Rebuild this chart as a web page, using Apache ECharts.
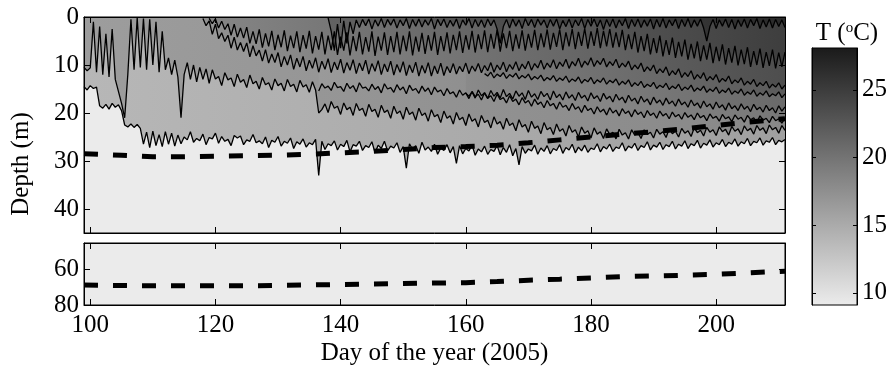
<!DOCTYPE html>
<html>
<head>
<meta charset="utf-8">
<script src="https://cdn.jsdelivr.net/npm/echarts@6/dist/echarts.min.js"></script>
<style>
  html, body { margin: 0; padding: 0; background: #fff; }
  #main { width: 891px; height: 372px; }
</style>
</head>
<body>
<div id="main"></div>
<script>
// axis ticks
const dayTicks = [100, 120, 140, 160, 180, 200];
const depthTicksTop = [0, 10, 20, 30, 40];
const depthTicksBottom = [60, 80];
const tempTicks = [10, 15, 20, 25];

// isotherm depths (m), one value every half day from the start day
const step = 0.5;

const gStart = 99;
const gDepth = [
  14.5, 15.2, 14.3, 14.9, 14.6, 18.5, 19.0, 18.2, 19.2, 18.0,
  18.8, 18.3, 19.5, 22.5, 22.9, 22.3, 23.0, 22.4, 23.2, 26.5,
  24.0, 27.2, 23.8, 26.8, 24.5, 27.0, 23.9, 26.5, 24.2, 26.9,
  24.6, 26.4, 25.0, 25.6, 23.9, 26.1, 25.3, 25.8, 24.4, 26.6,
  25.1, 25.4, 24.2, 26.3, 24.9, 25.9, 25.5, 26.8, 24.7, 25.2,
  24.8, 26.6, 25.6, 25.9, 24.5, 26.2, 25.8, 26.4, 25.0, 27.2,
  25.7, 26.1, 24.9, 26.9, 25.9, 26.3, 25.2, 27.4, 26.0, 26.5,
  25.4, 27.1, 26.2, 26.6, 25.5, 33.0, 25.9, 27.6, 26.4, 26.8,
  25.8, 27.7, 26.5, 27.0, 25.7, 28.1, 26.6, 26.9, 25.9, 27.8,
  26.8, 27.2, 26.0, 28.3, 26.7, 27.4, 25.9, 27.9, 26.9, 27.3,
  26.2, 28.2, 27.0, 31.5, 26.4, 27.6, 26.8, 28.4, 26.1, 27.7,
  27.1, 28.0, 26.5, 28.6, 27.3, 27.8, 26.6, 28.3, 27.0, 30.5,
  26.8, 28.5, 27.4, 27.9, 26.7, 28.8, 27.5, 28.1, 26.9, 28.6,
  27.6, 28.0, 26.8, 28.7, 27.2, 28.2, 26.6, 28.9, 27.4, 30.8,
  27.0, 28.4, 27.5, 27.9, 26.7, 28.6, 27.3, 28.0, 26.8, 28.5,
  27.4, 27.8, 26.6, 28.4, 27.2, 27.7, 26.5, 28.3, 27.1, 27.9,
  26.7, 28.2, 27.3, 27.6, 26.4, 28.1, 27.0, 27.5, 26.5, 28.0,
  27.1, 27.4, 26.2, 27.9, 26.9, 27.3, 26.3, 27.8, 26.8, 27.2,
  26.0, 27.7, 26.7, 27.1, 26.1, 27.6, 26.6, 27.0, 25.9, 27.5,
  26.5, 26.9, 25.8, 27.4, 26.4, 26.8, 25.7, 27.3, 26.3, 26.7,
  25.6, 27.1, 26.2, 26.6, 25.5, 27.0, 26.1, 26.5, 25.4, 26.9,
  26.0, 26.4, 25.3, 26.8, 25.9, 26.2, 25.2, 26.7, 25.8, 26.1,
  25.1, 26.6, 25.7, 26.0, 25.5
];

const fStart = 99;
const fDepth = [
  10.5, 11.2, 10.6, 1.0, 11.5, 2.0, 12.0, 3.5, 12.5, 2.5,
  13.0, 15.5, 18.0, 21.0, 12.0, 0.5, 11.0, 0.2, 10.5, 0.3,
  11.0, 0.5, 10.0, 1.0, 11.5, 3.0, 11.0, 8.5, 12.0, 9.0,
  12.5, 21.0, 12.0, 9.5, 13.0, 10.0, 13.5, 10.5, 13.0, 10.8,
  13.8, 11.0, 12.9, 12.4, 14.3, 11.6, 13.1, 12.7, 14.5, 11.9,
  13.6, 13.0, 14.7, 12.1, 13.9, 13.4, 15.0, 12.6, 14.1, 13.7,
  15.2, 12.9, 14.3, 13.8, 15.4, 13.0, 14.5, 14.0, 15.6, 13.2,
  14.6, 14.1, 15.7, 13.5, 15.2, 20.0, 19.3, 18.1, 19.9, 17.6,
  19.0, 18.6, 20.3, 17.9, 19.3, 18.8, 20.5, 18.0, 19.5, 19.0,
  20.7, 18.2, 19.7, 19.2, 20.9, 18.4, 19.9, 19.4, 21.1, 18.6,
  20.1, 19.6, 21.3, 18.8, 20.3, 19.8, 21.5, 19.0, 20.5, 20.0,
  21.7, 19.3, 20.8, 20.3, 22.0, 19.6, 21.1, 20.6, 22.3, 19.9,
  21.4, 20.9, 22.6, 20.2, 21.7, 21.2, 22.9, 20.5, 22.0, 21.5,
  23.1, 20.8, 22.3, 21.8, 23.4, 21.1, 22.6, 22.1, 23.7, 21.4,
  22.9, 22.4, 24.0, 21.7, 23.2, 22.7, 24.3, 22.0, 23.5, 23.0,
  24.5, 22.3, 23.8, 23.3, 24.8, 22.6, 24.0, 23.5, 25.0, 22.9,
  24.2, 23.7, 25.2, 23.1, 24.4, 23.9, 25.3, 23.3, 24.5, 24.0,
  25.4, 23.4, 24.6, 24.1, 25.4, 23.5, 24.6, 24.1, 25.3, 23.5,
  24.5, 24.0, 25.2, 23.4, 24.4, 23.9, 25.1, 23.3, 24.3, 23.8,
  25.0, 23.2, 24.2, 23.7, 24.9, 23.1, 24.1, 23.6, 24.8, 23.0,
  24.0, 23.5, 24.7, 22.9, 23.9, 23.4, 24.6, 22.8, 23.8, 23.3,
  24.5, 22.7, 23.7, 23.2, 24.4, 22.6, 23.6, 23.1, 24.3, 22.5,
  23.5, 23.0, 24.2, 22.6, 23.6
];

const eStart = 136.5;
const eDepth = [
  15.4, 13.9, 14.8, 14.4, 15.3, 13.6, 14.7, 14.5, 15.5,
  13.8, 14.9, 14.3, 15.6, 13.7, 14.8, 14.6, 15.4, 14.0, 15.1,
  14.5, 15.8, 13.9, 15.0, 14.7, 15.7, 14.1, 15.2, 14.6, 16.0,
  14.2, 15.3, 14.9, 15.9, 14.4, 15.5, 14.8, 16.2, 14.6, 15.6,
  15.2, 16.4, 14.9, 16.0, 15.6, 16.7, 15.2, 16.3, 15.8, 17.0,
  15.5, 16.6, 16.1, 17.3, 15.8, 16.9, 16.4, 17.6, 16.1, 17.2,
  16.8, 17.9, 16.4, 17.6, 17.1, 18.3, 16.8, 17.9, 17.4, 18.6,
  17.1, 18.2, 17.7, 18.9, 17.4, 18.5, 18.0, 19.2, 17.7, 18.8,
  18.4, 19.5, 18.0, 19.2, 18.7, 19.9, 18.4, 19.5, 19.0, 20.2,
  18.7, 19.8, 19.2, 20.4, 18.9, 20.0, 19.4, 20.6, 19.1, 20.1,
  19.6, 20.8, 19.3, 20.3, 19.8, 21.0, 19.5, 20.5, 20.0, 21.1,
  19.6, 20.6, 20.1, 21.2, 19.8, 20.8, 20.3, 21.3, 19.9, 20.9,
  20.4, 21.4, 20.0, 21.0, 20.5, 21.6, 20.2, 21.1, 20.7, 21.7,
  20.3, 21.2, 20.8, 21.8, 20.4, 21.3, 20.9, 21.9, 20.5, 21.4,
  21.0, 22.0, 20.6, 21.5, 21.1, 22.0, 20.7, 21.6, 21.2, 22.1,
  21.0
];

const dStart = 160;
const dDepth = [
  15.9, 16.5, 15.6, 16.9, 15.2, 16.4, 15.8, 17.0, 15.3, 16.5,
  15.7, 16.9, 15.1, 16.6, 15.9, 17.1, 15.4, 16.5, 15.8, 17.2,
  15.3, 16.7, 16.0, 17.2, 15.5, 16.6, 15.9, 17.3, 15.4, 16.8,
  16.1, 17.3, 15.6, 16.9, 16.2, 17.4, 15.7, 16.9, 16.3, 17.5,
  15.8, 17.0, 16.4, 17.6, 15.9, 17.1, 16.5, 17.7, 16.1, 17.3,
  16.7, 17.9, 16.3, 17.5, 16.9, 18.1, 16.5, 17.7, 17.1, 18.3,
  16.7, 17.9, 17.3, 18.4, 16.9, 18.1, 17.5, 18.6, 17.1, 18.3,
  17.7, 18.8, 17.3, 18.5, 17.9, 19.0, 17.5, 18.7, 18.1, 19.2,
  17.7, 18.9, 18.3, 19.4, 17.9, 19.1, 18.5, 19.5, 18.1, 19.2,
  18.6, 19.7, 18.2, 19.3, 18.8, 19.8, 18.4, 19.5, 18.9, 20.0,
  18.5, 19.6, 18.7
];

const cStart = 163;
const cDepth = [
  11.8, 12.3, 11.5, 12.7, 11.9, 12.4, 11.6, 12.8, 12.0, 12.5,
  11.7, 12.9, 12.2, 12.7, 11.9, 13.1, 12.4, 12.9, 12.1, 13.3,
  12.6, 13.1, 12.2, 13.4, 12.7, 13.2, 12.3, 13.6, 12.9, 13.4,
  12.5, 13.8, 13.0, 13.5, 12.6, 13.9, 13.1, 13.6, 12.7, 14.0,
  13.2, 13.7, 12.9, 14.2, 13.4, 14.0, 13.1, 14.5, 13.7, 14.3,
  13.4, 14.7, 14.0, 14.5, 13.6, 14.9, 14.2, 14.7, 13.8, 15.1,
  14.4, 14.9, 14.0, 15.3, 14.6, 15.1, 14.2, 15.5, 14.8, 15.3,
  14.4, 15.7, 15.0, 15.5, 14.6, 15.9, 15.2, 15.7, 14.8, 16.1,
  15.4, 15.9, 15.0, 16.3, 15.6, 16.1, 15.2, 16.5, 15.8, 16.3,
  15.4, 16.6, 16.0, 16.4, 15.6, 16.8, 16.0
];

const bStart = 118;
const bDepth = [
  0.3, 1.8, 0.8, 3.6, 1.5, 4.5, 3.3, 5.1, 3.8, 6.5,
  4.2, 6.9, 5.3, 7.2, 5.4, 8.3, 6.0, 8.1, 6.9, 9.2,
  6.8, 9.6, 7.7, 9.5, 7.4, 10.4, 8.2, 10.0, 7.9, 10.9,
  8.6, 10.4, 8.2, 11.2, 9.0, 10.7, 8.5, 11.5, 9.2, 10.9,
  8.7, 11.6, 9.4, 11.0, 8.8, 11.7, 9.5, 11.1, 8.9, 11.8,
  9.6, 11.2, 9.0, 11.9, 9.7, 11.3, 9.1, 12.0, 9.8, 11.4,
  9.2, 12.1, 9.9, 11.5, 9.3, 12.2, 10.0, 11.6, 9.4, 12.3,
  10.1, 11.7, 9.5, 12.3, 10.2, 11.8, 9.6, 12.2, 10.3, 11.6,
  9.7, 11.9, 10.3, 11.4, 9.6, 11.8, 10.2, 11.3, 9.7, 11.6,
  10.1, 11.2, 9.5, 11.5, 10.0, 11.0, 9.4, 11.4, 9.9, 10.9,
  9.3, 11.2, 9.8, 10.8, 9.2, 11.1, 9.7, 10.6, 9.0, 10.9,
  9.6, 10.5, 8.9, 10.8, 9.4, 10.3, 8.8, 10.7, 9.3, 10.2,
  8.6, 10.5, 9.2, 10.0, 8.5, 10.3, 9.1, 9.9, 8.6, 10.4,
  9.3, 10.1, 8.8, 10.6, 9.6, 10.4, 9.2, 11.0, 10.0, 10.8,
  9.6, 11.4, 10.4, 11.2, 10.0, 11.8, 10.8, 11.6, 10.4, 12.2,
  11.2, 12.0, 10.8, 12.6, 11.6, 12.4, 11.2, 13.0, 12.0, 12.8,
  11.6, 13.3, 12.4, 13.1, 12.0, 13.6, 12.8, 13.4, 12.3, 13.9,
  13.1, 13.7, 12.7, 14.2, 13.4, 14.0, 13.0, 14.5, 13.7, 14.3,
  13.4, 14.8, 14.0, 14.6, 13.7, 15.0, 14.2
];

const aStart = 119;
const aDepth = [
  0.3, 1.4, 0.4, 2.3, 0.9, 2.6, 1.4, 3.8, 1.5, 4.2,
  2.3, 4.4, 2.1, 5.5, 3.0, 5.6, 2.6, 6.4, 3.4, 6.1,
  2.9, 6.9, 3.7, 6.3, 2.8, 7.1, 3.9, 6.5, 3.0, 7.3,
  3.8, 6.6, 2.9, 7.6, 4.0, 6.8, 3.1, 7.8, 3.9, 6.9,
  3.0, 7.9, 4.1, 7.0, 3.2, 8.0, 4.0, 7.1, 3.1, 7.8,
  4.2, 7.2, 3.0, 8.1, 4.1, 7.0, 3.2, 7.9, 4.0, 7.3,
  3.1, 7.8, 3.9, 7.1, 3.0, 8.0, 4.1, 7.2, 3.3, 7.7,
  3.8, 7.0, 3.1, 7.9, 4.0, 7.1, 3.2, 7.6, 3.7, 6.9,
  3.0, 7.5, 3.8, 6.8, 2.9, 7.4, 3.6, 6.7, 2.8, 7.3,
  3.5, 6.6, 2.7, 7.2, 3.4, 6.5, 2.9, 7.1, 3.6, 6.6,
  2.8, 7.0, 3.5, 6.4, 2.7, 6.9, 3.4, 6.3, 2.6, 6.8,
  3.3, 6.2, 2.6, 6.9, 3.2, 6.1, 2.5, 6.7, 3.1, 6.0,
  2.4, 6.6, 3.0, 6.0, 2.3, 6.5, 2.9, 6.1, 2.5, 6.4,
  3.2, 6.3, 2.7, 6.9, 3.6, 6.7, 3.1, 7.4, 4.0, 7.1,
  3.5, 7.8, 4.4, 7.5, 3.9, 8.2, 4.8, 7.9, 4.3, 8.5,
  5.2, 8.2, 4.7, 8.9, 5.6, 8.6, 5.1, 9.2, 5.9, 8.9,
  5.4, 9.6, 6.2, 9.2, 5.7, 9.9, 6.5, 9.5, 6.0, 10.1,
  6.8, 9.8, 6.3, 10.4, 7.1, 10.0, 6.6, 10.6, 7.3, 10.2,
  6.8, 10.7, 7.4, 10.4, 7.3
];

const sStart = 138;
const sDepth = [
  0.2, 3.0, 7.0, 1.5, 6.5, 0.8, 5.5, 1.0, 3.5, 0.6,
  2.2, 0.5, 1.8, 0.4, 2.5, 0.6, 1.9, 0.3, 2.2, 0.5,
  1.7, 0.4, 2.3, 0.6, 1.8, 0.3, 2.4, 0.5, 1.9, 0.4,
  2.1, 0.6, 1.7, 0.3, 2.5, 0.5, 1.8, 0.4, 2.2, 0.7,
  1.9, 0.4, 2.4, 0.6, 1.7, 0.3, 2.3, 0.5, 2.0, 0.6,
  2.2, 0.4, 1.8, 0.6, 2.5, 5.5, 2.0, 0.5, 2.3, 0.4,
  1.9, 0.6, 2.4, 0.3, 1.8, 0.5, 2.2, 0.4, 1.7, 0.6,
  2.3, 0.5, 1.9, 0.4, 2.5, 0.7, 2.0, 0.4, 2.3, 0.6,
  1.8, 0.3, 2.4, 0.5, 1.9, 0.4, 2.1, 0.6, 2.6, 0.5,
  2.0, 0.4, 2.3, 0.6, 1.8, 0.3, 2.4, 0.5, 2.0, 0.4,
  2.2, 0.6, 1.9, 0.4, 2.5, 0.5, 2.1, 0.3, 2.3, 0.6,
  1.8, 0.4, 2.4, 0.5, 2.0, 0.3, 2.2, 0.6, 1.9, 0.4,
  2.3, 5.0, 2.0, 0.5, 2.4, 0.6, 1.9, 0.4, 2.2, 0.5,
  2.5, 0.6, 2.0, 0.4, 2.3, 0.5, 1.8, 0.3, 2.4, 0.6,
  2.1, 0.4, 2.3, 0.5, 2.0, 0.6, 2.2
];

// thick dashed line, upper and lower panels
const dashDays = [99, 105, 110, 115, 120, 125, 130, 135, 140, 145, 150, 155,
  160, 165, 170, 175, 180, 185, 190, 195, 200, 205, 211];
const dashTop = [28.5, 28.8, 29.1, 29.1, 29.0, 28.9, 28.8, 28.6, 28.3, 28.0, 27.6, 27.2,
  27.0, 26.7, 26.2, 25.6, 25.0, 24.4, 23.9, 23.3, 22.6, 21.9, 21.2];
const dashBottom = [68.7, 69.0, 69.2, 69.2, 69.2, 69.2, 68.9, 68.7, 68.4, 68.2, 67.9, 67.6,
  67.4, 66.8, 66.0, 65.4, 64.7, 64.0, 63.6, 63.2, 62.7, 61.9, 60.9];

const FONT = 'Liberation Serif';
const FS = 25;
const chart = echarts.init(document.getElementById('main'));

const toPoints = (start, arr) => arr.map((v, i) => [start + i * step, v]);
const grad = (c0, c1) => new echarts.graphic.LinearGradient(0, 0, 1, 0, [
  { offset: 0, color: c0 }, { offset: 1, color: c1 }
]);

// deepest first, so shallower (warmer) layers paint over
const layers = [
  [gStart, gDepth, '#b7b7b7', '#a0a0a0'],
  [fStart, fDepth, '#9d9d9d', '#888888'],
  [eStart, eDepth, '#9a9a9a', '#787878'],
  [dStart, dDepth, '#8a8a8a', '#6a6a6a'],
  [cStart, cDepth, '#7e7e7e', '#5a5a5a'],
  [bStart, bDepth, '#929292', '#4e4e4e'],
  [aStart, aDepth, '#868686', '#3e3e3e'],
  [sStart, sDepth, '#626262', '#2a2a2a']
];

const series = [];
layers.forEach(([start, arr, c0, c1]) => {
  series.push({
    type: 'line', xAxisIndex: 0, yAxisIndex: 0, silent: true, z: 2,
    data: toPoints(start, arr), symbol: 'none',
    lineStyle: { width: 0, opacity: 0 },
    areaStyle: { origin: 'start', color: grad(c0, c1), opacity: 1 }
  });
});
layers.forEach(([start, arr]) => {
  series.push({
    type: 'line', xAxisIndex: 0, yAxisIndex: 0, silent: true, z: 3,
    data: toPoints(start, arr), symbol: 'none',
    lineStyle: { width: 1.3, color: '#000' }
  });
});
series.push({
  type: 'line', xAxisIndex: 0, yAxisIndex: 0, silent: true, z: 4,
  data: dashDays.map((d, i) => [d, dashTop[i]]), symbol: 'none',
  lineStyle: { width: 5, color: '#000', type: [14, 15], cap: 'butt' }
});
series.push({
  type: 'line', xAxisIndex: 2, yAxisIndex: 2, silent: true, z: 4,
  data: dashDays.map((d, i) => [d, dashBottom[i]]), symbol: 'none',
  lineStyle: { width: 5, color: '#000', type: [14, 15], cap: 'butt' }
});

const lineStyle = { color: '#000', width: 1 };
const labelStyle = { fontFamily: FONT, fontSize: FS, color: '#000' };
const xAx = (grid, pos, labels) => ({
  type: 'value', gridIndex: grid, position: pos, min: 99, max: 211, z: 10,
  axisLine: { show: true, onZero: false, lineStyle },
  axisTick: { show: true, inside: true, length: 6, lineStyle, customValues: dayTicks },
  axisLabel: labels ? Object.assign({ show: true, customValues: dayTicks, margin: 8 }, labelStyle)
    : { show: false },
  splitLine: { show: false }
});
const yAx = (grid, pos, min, max, ticks, labels) => ({
  type: 'value', gridIndex: grid, position: pos, min, max, inverse: true, z: 10,
  axisLine: { show: true, onZero: false, lineStyle },
  axisTick: { show: true, inside: true, length: 6, lineStyle, customValues: ticks },
  axisLabel: labels ? Object.assign({ show: true, customValues: ticks, margin: 5 }, labelStyle)
    : { show: false },
  splitLine: { show: false }
});

const xAxis = [
  xAx(0, 'bottom', false),
  xAx(0, 'top', false),
  Object.assign(xAx(1, 'bottom', true), {
    name: 'Day of the year (2005)', nameLocation: 'middle', nameGap: 36,
    nameTextStyle: labelStyle
  }),
  xAx(1, 'top', false),
  { type: 'value', gridIndex: 2, min: 0, max: 1, show: false }
];
const yAxis = [
  yAx(0, 'left', 0, 45, depthTicksTop, true),
  yAx(0, 'right', 0, 45, depthTicksTop, false),
  yAx(1, 'left', 45, 80, depthTicksBottom, true),
  yAx(1, 'right', 45, 80, depthTicksBottom, false),
  Object.assign(yAx(2, 'right', 9.1, 28.1, tempTicks, true), {
    inverse: false,
    axisTick: { show: true, inside: true, length: 4, lineStyle, customValues: tempTicks },
    axisLabel: Object.assign({ show: true, customValues: tempTicks, margin: 5 }, labelStyle)
  }),
  Object.assign(yAx(2, 'left', 9.1, 28.1, tempTicks, false), {
    inverse: false,
    axisTick: { show: true, inside: true, length: 4, lineStyle, customValues: tempTicks }
  })
];

chart.setOption({
  animation: false,
  backgroundColor: '#fff',
  grid: [
    { left: 84, top: 17, width: 701, height: 216, show: true, backgroundColor: '#ebebeb',
      borderColor: '#000', borderWidth: 1, outerBoundsMode: 'none' },
    { left: 84, top: 243, width: 701, height: 62, show: true, backgroundColor: '#ebebeb',
      borderColor: '#000', borderWidth: 1, outerBoundsMode: 'none' },
    { left: 812, top: 48, width: 45, height: 257, show: true,
      backgroundColor: new echarts.graphic.LinearGradient(0, 0, 0, 1, [
        { offset: 0, color: '#1a1a1a' }, { offset: 1, color: '#ececec' }
      ]),
      borderColor: '#000', borderWidth: 1, outerBoundsMode: 'none' }
  ],
  xAxis, yAxis, series,
  graphic: [
    { type: 'text', x: 21, y: 164, rotation: Math.PI / 2,
      style: { text: 'Depth (m)', fontFamily: FONT, fontSize: FS, fill: '#000',
        align: 'center', verticalAlign: 'middle' } },
    { type: 'text', x: 847, y: 33,
      style: { text: 'T ({sup|o}C)', fontFamily: FONT, fontSize: FS, fill: '#000',
        align: 'center', verticalAlign: 'middle',
        rich: { sup: { fontFamily: FONT, fontSize: 15, verticalAlign: 'top', fill: '#000' } } } }
  ]
});
</script>
</body>
</html>
